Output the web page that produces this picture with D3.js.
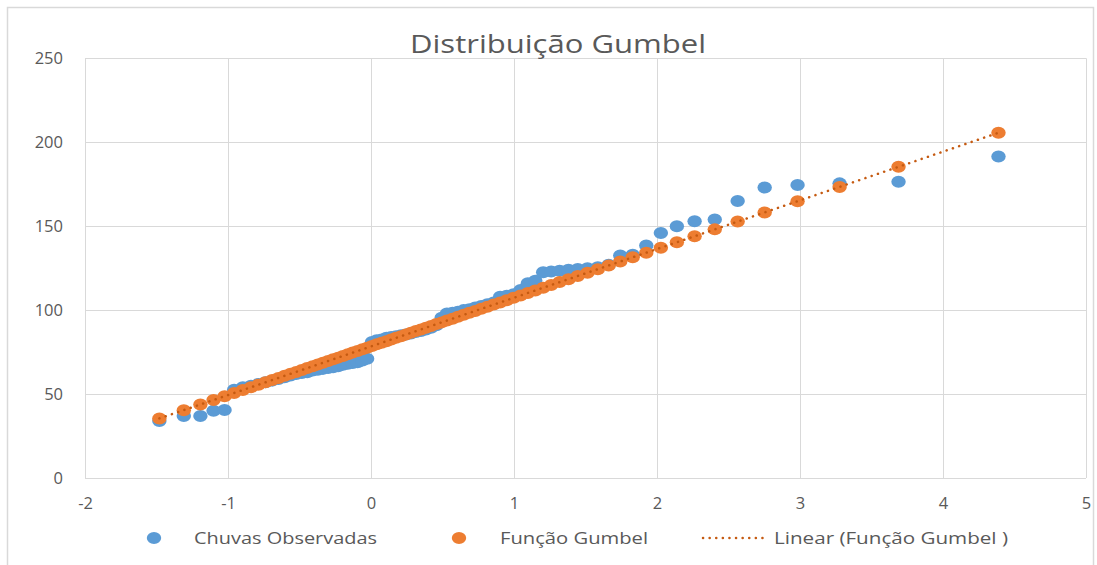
<!DOCTYPE html>
<html>
<head>
<meta charset="utf-8">
<script src="https://cdn.jsdelivr.net/npm/d3@7"></script>
<style>
  body { margin: 0; background: #fff; }
  text { font-family: "Open Sans", "Noto Sans", sans-serif; fill: #595959; }
</style>
</head>
<body>
<svg width="1097" height="565"></svg>
<script>
// reduced variate (x) for each ranked value
var gumbelX = [-1.480, -1.309, -1.193, -1.101, -1.024, -0.957, -0.896, -0.839, -0.787, -0.738,
	-0.691, -0.647, -0.604, -0.563, -0.523, -0.484, -0.446, -0.408, -0.372, -0.336,
	-0.300, -0.265, -0.230, -0.196, -0.162, -0.128, -0.094, -0.060, -0.027, 0.007,
	0.040, 0.074, 0.108, 0.141, 0.175, 0.210, 0.244, 0.279, 0.314, 0.349,
	0.384, 0.420, 0.457, 0.494, 0.531, 0.570, 0.608, 0.648, 0.688, 0.729,
	0.771, 0.814, 0.858, 0.903, 0.949, 0.997, 1.046, 1.097, 1.149, 1.204,
	1.260, 1.319, 1.381, 1.446, 1.514, 1.586, 1.662, 1.743, 1.830, 1.925,
	2.027, 2.139, 2.263, 2.404, 2.564, 2.753, 2.983, 3.277, 3.689, 4.388];

// Chuvas Observadas
var chuvas = [34, 37, 37, 40, 40.5, 52.5, 54, 55, 56, 57,
	58, 59, 60, 61, 62, 62.5, 63, 64, 64.5, 65,
	65.5, 66, 66.5, 67.5, 68, 68.5, 69, 70, 71, 81,
	82, 82.5, 83.5, 84, 84.5, 85, 85.5, 86, 87, 87.5,
	88.5, 89.5, 91, 95.5, 98, 98.5, 99, 100, 100.5, 101.5,
	102.5, 103.5, 104.5, 108, 108.5, 109.5, 112, 116, 117.5, 122.5,
	123, 123.5, 124, 124.5, 125, 125.5, 127, 132.5, 133, 138.5,
	146, 150, 153, 154, 165, 173, 174.5, 175.5, 176.5, 191.5];

// Função Gumbel
var gumbel = [35.5, 40.4, 43.8, 46.5, 48.7, 50.6, 52.4, 54.1, 55.6, 57.0,
	58.4, 59.6, 60.9, 62.1, 63.2, 64.4, 65.5, 66.6, 67.6, 68.7,
	69.7, 70.7, 71.7, 72.7, 73.7, 74.7, 75.7, 76.7, 77.6, 78.6,
	79.6, 80.5, 81.5, 82.5, 83.5, 84.5, 85.5, 86.5, 87.5, 88.5,
	89.5, 90.6, 91.7, 92.7, 93.8, 94.9, 96.0, 97.2, 98.4, 99.5,
	100.8, 102.0, 103.3, 104.6, 105.9, 107.3, 108.7, 110.2, 111.7, 113.3,
	114.9, 116.7, 118.4, 120.3, 122.3, 124.4, 126.6, 128.9, 131.5, 134.2,
	137.2, 140.4, 144.0, 148.1, 152.8, 158.2, 164.9, 173.4, 185.4, 205.7];

var xTicks = [-2, -1, 0, 1, 2, 3, 4, 5];
var yTicks = [0, 50, 100, 150, 200, 250];

var blue = "#5B9BD5", orange = "#ED7D31", trendColor = "#C55A11", gridColor = "#D9D9D9";

var svg = d3.select("svg");

// chart area border
svg.append("rect")
	.attr("x", 7.5).attr("y", 7.5)
	.attr("width", 1086).attr("height", 580)
	.attr("fill", "none")
	.attr("stroke", gridColor)
	.attr("stroke-width", 1.5);

var x = d3.scaleLinear().domain([-2, 5]).range([85, 1086]);
var y = d3.scaleLinear().domain([0, 250]).range([478, 58.3]);

// gridlines
var grid = svg.append("g");
grid.selectAll("line.v")
	.data(xTicks)
	.enter().append("line")
	.attr("class", "v")
	.attr("x1", function (d) { return Math.round(x(d)) + 0.5; })
	.attr("x2", function (d) { return Math.round(x(d)) + 0.5; })
	.attr("y1", y(0)).attr("y2", y(250))
	.attr("stroke", gridColor);
grid.selectAll("line.h")
	.data(yTicks)
	.enter().append("line")
	.attr("class", "h")
	.attr("x1", x(-2)).attr("x2", x(5))
	.attr("y1", function (d) { return Math.round(y(d)) + 0.5; })
	.attr("y2", function (d) { return Math.round(y(d)) + 0.5; })
	.attr("stroke", gridColor);

// axes labels (no domain lines, excel style)
var yAxis = svg.append("g")
	.attr("transform", "translate(" + (x(-2) - 22) + ",0)")
	.call(d3.axisLeft(y).tickValues(yTicks).tickSize(0).tickPadding(0)
		.tickFormat(function (d) { return String(d); }));
var xAxis = svg.append("g")
	.attr("transform", "translate(0," + (y(0) + 19) + ")")
	.call(d3.axisBottom(x).tickValues(xTicks).tickSize(0).tickPadding(0)
		.tickFormat(function (d) { return String(d); }));
[xAxis, yAxis].forEach(function (a) {
	a.select(".domain").remove();
	a.selectAll("text")
		.style("font-family", "'Open Sans', sans-serif")
		.style("font-size", "16.5px")
		.attr("fill", "#595959");
});
xAxis.selectAll("text").attr("dy", "0.71em");

// points
var pts = gumbelX.map(function (d, i) { return { x: d, obs: chuvas[i], fit: gumbel[i] }; });

svg.append("g")
	.selectAll("ellipse")
	.data(pts)
	.enter().append("ellipse")
	.attr("cx", function (d) { return x(d.x); })
	.attr("cy", function (d) { return y(d.obs); })
	.attr("rx", 7.2).attr("ry", 6)
	.attr("fill", blue);

svg.append("g")
	.selectAll("ellipse")
	.data(pts)
	.enter().append("ellipse")
	.attr("cx", function (d) { return x(d.x); })
	.attr("cy", function (d) { return y(d.fit); })
	.attr("rx", 7.2).attr("ry", 6)
	.attr("fill", orange);

// linear trendline fitted to the Gumbel series
var mx = d3.mean(gumbelX), my = d3.mean(gumbel);
var sxy = d3.sum(gumbelX, function (d, i) { return (d - mx) * (gumbel[i] - my); });
var sxx = d3.sum(gumbelX, function (d) { return (d - mx) * (d - mx); });
var slope = sxy / sxx, icpt = my - slope * mx;
var xr = d3.extent(gumbelX);

svg.append("line")
	.attr("x1", x(xr[0])).attr("y1", y(icpt + slope * xr[0]))
	.attr("x2", x(xr[1])).attr("y2", y(icpt + slope * xr[1]))
	.attr("stroke", trendColor)
	.attr("stroke-width", 2.5)
	.attr("stroke-linecap", "round")
	.attr("stroke-dasharray", "0.1,6.5");

// title
svg.append("text")
	.attr("x", 558).attr("y", 53)
	.attr("text-anchor", "middle")
	.attr("textLength", 296)
	.attr("lengthAdjust", "spacingAndGlyphs")
	.style("font-size", "25px")
	.text("Distribuição Gumbel");

// legend
var leg = svg.append("g");
var ly = 538;
leg.append("ellipse").attr("cx", 154).attr("cy", ly).attr("rx", 7.2).attr("ry", 6).attr("fill", blue);
leg.append("text").attr("x", 194).attr("y", ly + 6)
	.attr("textLength", 183).attr("lengthAdjust", "spacingAndGlyphs")
	.style("font-size", "16px").text("Chuvas Observadas");
leg.append("ellipse").attr("cx", 459).attr("cy", ly).attr("rx", 7.2).attr("ry", 6).attr("fill", orange);
leg.append("text").attr("x", 500).attr("y", ly + 6)
	.attr("textLength", 148).attr("lengthAdjust", "spacingAndGlyphs")
	.style("font-size", "16px").text("Função Gumbel");
leg.append("line").attr("x1", 703).attr("x2", 766).attr("y1", ly).attr("y2", ly)
	.attr("stroke", trendColor).attr("stroke-width", 2.5)
	.attr("stroke-linecap", "round").attr("stroke-dasharray", "0.1,6.5");
leg.append("text").attr("x", 774).attr("y", ly + 6)
	.attr("textLength", 234).attr("lengthAdjust", "spacingAndGlyphs")
	.style("font-size", "16px").text("Linear (Função Gumbel )");
</script>
</body>
</html>
